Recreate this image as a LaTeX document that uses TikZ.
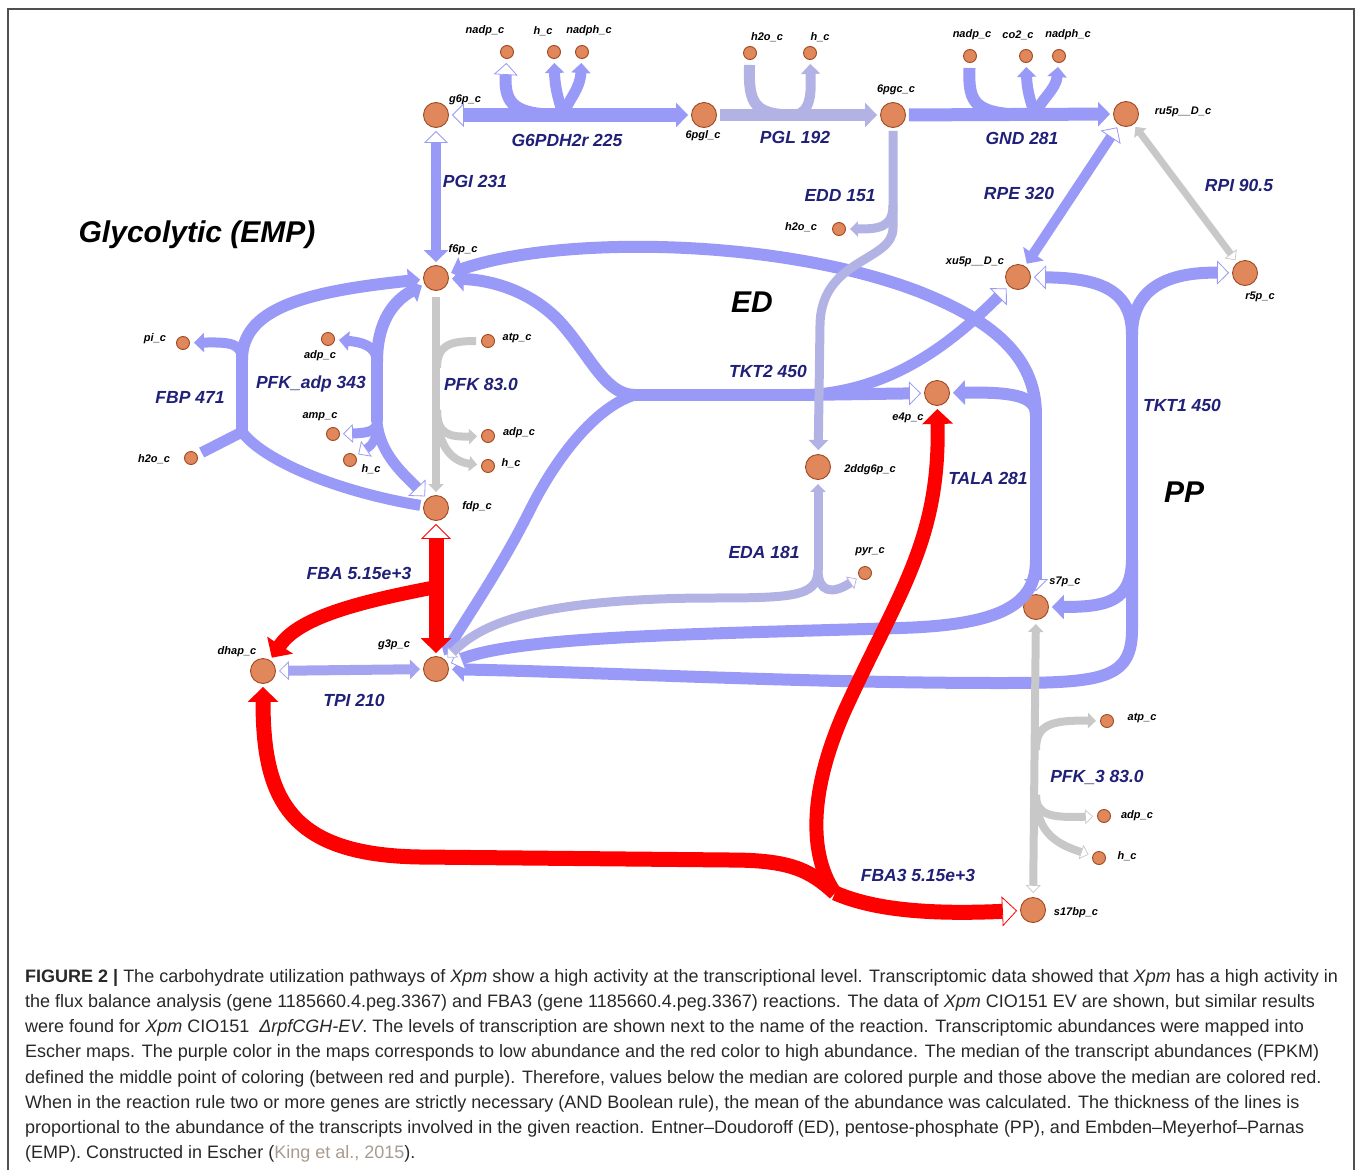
\documentclass[tikz,border=0pt]{standalone}
\usepackage{fontspec}
\setmainfont{Liberation Sans}
\usetikzlibrary{arrows.meta}
\definecolor{pur}{RGB}{153,153,247}
\definecolor{pale}{RGB}{178,178,228}
\definecolor{tpicol}{RGB}{164,164,240}
\definecolor{gry}{RGB}{200,200,200}
\definecolor{hot}{RGB}{255,0,0}
\definecolor{navy}{RGB}{32,32,120}
\definecolor{metfill}{RGB}{224,136,91}
\definecolor{metedge}{RGB}{160,72,32}
\definecolor{captxt}{RGB}{40,40,40}
\definecolor{citecol}{RGB}{168,154,142}
\definecolor{framecol}{RGB}{80,80,80}
\tikzset{
  met/.style={circle,draw=metedge,fill=metfill,line width=0.9pt,minimum size=25pt,inner sep=0pt},
  cof/.style={met,minimum size=13pt},
  mlab/.style={font=\fontsize{11}{13}\selectfont\bfseries\itshape},
  rlab/.style={text=navy,font=\fontsize{17.5}{20}\selectfont\bfseries\itshape},
  sect/.style={font=\fontsize{30}{34}\selectfont\bfseries\itshape},
  capline/.style={anchor=base west,inner sep=0pt,text=captxt,font=\fontsize{18}{21}\selectfont},
  bigf/.tip={Triangle[length=12pt,width=24pt]},
  bigo/.tip={Triangle[open,fill=white,line width=0.8pt,length=12pt,width=24pt]},
  midf/.tip={Triangle[length=10pt,width=19pt]},
  mido/.tip={Triangle[open,fill=white,line width=0.8pt,length=10pt,width=19pt]},
  smf/.tip={Triangle[length=8pt,width=15pt]},
  smo/.tip={Triangle[open,fill=white,line width=0.7pt,length=8pt,width=15pt]},
  redf/.tip={Triangle[length=15pt,width=30pt]},
  redo/.tip={Triangle[open,fill=white,line width=0.8pt,length=15pt,width=30pt]},
}
\begin{document}
\begin{tikzpicture}[x=1pt,y=-1pt]
  \useasboundingbox (0,0) rectangle (1358,1170);
  \draw[framecol,line width=2pt] (8,1170) -- (8,9) -- (1354,9) -- (1354,1170);
  \path
    (436,115) node[met] (g6p){}
    (704,115) node[met] (pgl6){}
    (893,115) node[met] (pgc6){}
    (1126,114) node[met] (ru5p){}
    (436,278) node[met] (f6p){}
    (436,508) node[met] (fdp){}
    (436,669) node[met] (g3p){}
    (263,671) node[met] (dhap){}
    (1018,277) node[met] (xu5p){}
    (1245,273) node[met] (r5p){}
    (937,393) node[met] (e4p){}
    (818,467) node[met] (ddg){}
    (1036,607) node[met] (s7p){}
    (1033,910) node[met] (s17bp){};
  \path
    (507,52) node[cof] (nadpA){}
    (554,52) node[cof] (hA){}
    (582,52) node[cof] (nadphA){}
    (750,53) node[cof] (h2oB){}
    (810,53) node[cof] (hB){}
    (970,56) node[cof] (nadpC){}
    (1026,56) node[cof] (co2C){}
    (1059,56) node[cof] (nadphC){}
    (839,229) node[cof] (h2oD){}
    (183,343) node[cof] (piE){}
    (328,339) node[cof] (adpF){}
    (333,434) node[cof] (ampF){}
    (350,460) node[cof] (hF){}
    (191,458) node[cof] (h2oE){}
    (488,341) node[cof] (atpG){}
    (488,436) node[cof] (adpG){}
    (488,466) node[cof] (hG){}
    (865,573) node[cof] (pyrH){}
    (1107,721) node[cof] (atpK){}
    (1104,816) node[cof] (adpK){}
    (1099,858) node[cof] (hK){};
  \path[mlab]
    (465,100) node {g6p\_c}
    (703,136) node {6pgl\_c}
    (896,90) node {6pgc\_c}
    (1183,112) node {ru5p\_\_D\_c}
    (463,250) node {f6p\_c}
    (477,507) node {fdp\_c}
    (394,645) node {g3p\_c}
    (237,652) node {dhap\_c}
    (975,262) node {xu5p\_\_D\_c}
    (1260,297) node {r5p\_c}
    (908,418) node {e4p\_c}
    (870,470) node {2ddg6p\_c}
    (1065,582) node {s7p\_c}
    (1076,913) node {s17bp\_c}
    (485,31) node {nadp\_c}
    (543,31) node {h\_c}
    (589,31) node {nadph\_c}
    (767,37) node {h2o\_c}
    (820,37) node {h\_c}
    (972,35) node {nadp\_c}
    (1018,35) node {co2\_c}
    (1068,35) node {nadph\_c}
    (801,227) node {h2o\_c}
    (155,339) node {pi\_c}
    (320,356) node {adp\_c}
    (320,417) node {amp\_c}
    (371,469) node {h\_c}
    (154,459) node {h2o\_c}
    (517,338) node {atp\_c}
    (519,433) node {adp\_c}
    (511,463) node {h\_c}
    (870,552) node {pyr\_c}
    (1142,718) node {atp\_c}
    (1137,816) node {adp\_c}
    (1127,856) node {h\_c};
  \path[rlab]
    (567,140) node {G6PDH2r 225}
    (795,137) node {PGL 192}
    (1022,138) node {GND 281}
    (475,181) node {PGI 231}
    (840,196) node {EDD 151}
    (1019,193) node {RPE 320}
    (1239,185) node {RPI 90.5}
    (190,397) node {FBP 471}
    (311,384) node {PFK\_adp 343}
    (481,384) node {PFK 83.0}
    (768,371) node {TKT2 450}
    (1182,405) node {TKT1 450}
    (988,478) node {TALA 281}
    (764,552) node {EDA 181}
    (359,573) node {FBA 5.15e+3}
    (354,700) node {TPI 210}
    (1097,777) node {PFK\_3 83.0}
    (918,875) node {FBA3 5.15e+3};
  \path[sect]
    (197,235) node {Glycolytic (EMP)}
    (752,302) node {ED}
    (1184,492) node {PP};
  \coordinate (g6pdh) at (563,115);
  \coordinate (pglx) at (795,115);
  \coordinate (gnd) at (1035,115);
  \coordinate (edd) at (893,205);
  \coordinate (eda) at (818,570);
  \coordinate (fba) at (436,587);
  \coordinate (fba3) at (835,893);
  \coordinate (tkt2) at (635,395);
  \coordinate (tkt2x) at (800,395);
  \coordinate (tkt1a) at (1132,335);
  \coordinate (tkt1b) at (1132,560);
  \coordinate (talaa) at (1036,415);
  \coordinate (talab) at (1036,560);
  \coordinate (fbpa) at (242,360);
  \coordinate (fbpb) at (242,432);
  \coordinate (pfkadpa) at (377,362);
  \coordinate (pfkadpb) at (377,422);
  \coordinate (pfka) at (437,368);
  \coordinate (pfkb) at (437,410);
  \coordinate (pfk3a) at (1036,750);
  \coordinate (pfk3b) at (1036,795);
  \begin{scope}[draw=pur]
    \draw[line width=14pt,bigo-bigf,shorten <=3pt,shorten >=3pt] (g6p) -- (pgl6);
    \draw[line width=12pt,-bigo,shorten >=4pt] (g6pdh) .. controls (515,115) and (504,105) .. (nadpA);
    \draw[line width=11pt,-midf,shorten >=4pt] (g6pdh) .. controls (559,100) and (555,90) .. (hA);
    \draw[line width=11pt,-midf,shorten >=4pt] (g6pdh) .. controls (568,100) and (580,90) .. (nadphA);
    \draw[line width=13pt,-bigf,shorten <=3pt,shorten >=3pt] (pgc6) -- (ru5p);
    \draw[line width=12pt,shorten >=5pt] (gnd) .. controls (975,115) and (968,105) .. (nadpC);
    \draw[line width=11pt,-midf,shorten >=4pt] (gnd) .. controls (1030,100) and (1027,90) .. (co2C);
    \draw[line width=11pt,-midf,shorten >=4pt] (gnd) .. controls (1040,100) and (1056,90) .. (nadphC);
    \draw[line width=10pt,bigo-bigf,shorten <=3pt,shorten >=3pt] (g6p) -- (f6p);
    \draw[line width=10pt,bigo-bigf,shorten <=3pt,shorten >=3pt] (ru5p) -- (xu5p);
    \draw[line width=12pt] (tkt2) -- (tkt2x);
    \draw[line width=12pt,-bigf,shorten >=3pt] (tkt2) .. controls (605,395) and (590,355) .. (560,322) .. controls (530,290) and (490,280) .. (f6p);
    \draw[line width=11pt,-midf,shorten >=3pt] (tkt2) .. controls (600,405) and (560,450) .. (530,510) .. controls (500,570) and (465,620) .. (g3p);
    \draw[line width=12pt,-bigo,shorten >=3pt] (tkt2x) -- (e4p);
    \draw[line width=11pt,-bigo,shorten >=3pt] (tkt2x) .. controls (880,393) and (940,355) .. (xu5p);
    \draw[line width=12pt] (tkt1a) -- (tkt1b);
    \draw[line width=12pt,-bigo,shorten >=3pt] (tkt1a) .. controls (1132,290) and (1100,278) .. (xu5p);
    \draw[line width=12pt,-bigo,shorten >=3pt] (tkt1a) .. controls (1132,290) and (1165,272) .. (r5p);
    \draw[line width=12pt,-bigf,shorten >=3pt] (tkt1b) .. controls (1131,600) and (1110,607) .. (s7p);
    \draw[line width=12pt,-bigf,shorten >=3pt] (tkt1b) -- (1132,630) .. controls (1132,680) and (1100,683) .. (1000,683) .. controls (800,683) and (600,672) .. (g3p);
    \draw[line width=12pt] (talaa) -- (talab);
    \draw[line width=12pt,-bigf,shorten >=3pt] (talaa) .. controls (1036,395) and (1010,392) .. (e4p);
    \draw[line width=12pt,-bigf,shorten >=3pt] (talaa) .. controls (1036,355) and (990,320) .. (920,292) .. controls (780,238) and (560,235) .. (f6p);
    \draw[line width=12pt,-bigo,shorten >=3pt] (talab) -- (s7p);
    \draw[line width=12pt,-bigo,shorten >=3pt] (talab) .. controls (1036,605) and (1000,625) .. (900,628) .. controls (700,634) and (520,636) .. (g3p);
    \draw[line width=12pt] (fbpa) -- (fbpb);
    \draw[line width=12pt,-bigf,shorten >=3pt] (fbpa) .. controls (242,310) and (300,292) .. (f6p);
    \draw[line width=10pt,-midf,shorten >=4pt] (fbpa) .. controls (242,343) and (230,342) .. (piE);
    \draw[line width=11pt,shorten >=5pt] (fbpb) -- (h2oE);
    \draw[line width=11pt,shorten >=3pt] (fbpb) .. controls (265,462) and (340,492) .. (fdp);
    \draw[line width=12pt] (pfkadpa) -- (pfkadpb);
    \draw[line width=12pt,-bigf,shorten >=3pt] (pfkadpa) .. controls (377,320) and (395,300) .. (f6p);
    \draw[line width=10pt,-midf,shorten >=4pt] (pfkadpa) .. controls (377,345) and (360,342) .. (adpF);
    \draw[line width=10pt,-mido,shorten >=3pt] (pfkadpb) .. controls (377,430) and (370,433) .. (ampF);
    \draw[line width=9pt,-mido,shorten >=3pt] (pfkadpb) .. controls (377,440) and (372,445) .. (hF);
    \draw[line width=11pt,-bigo,shorten >=3pt] (pfkadpb) .. controls (380,455) and (405,475) .. (fdp);
  \end{scope}
  \begin{scope}[draw=pale]
    \draw[line width=12pt,-bigf,shorten <=3pt,shorten >=3pt] (pgl6) -- (pgc6);
    \draw[line width=11pt,shorten >=5pt] (pglx) .. controls (755,115) and (748,105) .. (h2oB);
    \draw[line width=10pt,-midf,shorten >=4pt] (pglx) .. controls (812,112) and (811,90) .. (hB);
    \draw[line width=9pt,-midf,shorten <=3pt,shorten >=4pt] (pgc6) -- (edd) -- (893,228) .. controls (893,262) and (821,258) .. (820,325) -- (ddg);
    \draw[line width=9pt,-smf,shorten >=4pt] (edd) .. controls (893,228) and (878,229) .. (h2oD);
    \draw[line width=9pt,smf-,shorten <=4pt] (ddg) -- (eda);
    \draw[line width=9pt,-smo,shorten >=3pt] (eda) .. controls (818,598) and (790,598) .. (700,598) .. controls (530,600) and (480,625) .. (g3p);
    \draw[line width=9pt,-smo,shorten >=3pt] (eda) .. controls (818,592) and (832,595) .. (pyrH);
  \end{scope}
  \draw[tpicol,line width=10pt,mido-midf,shorten <=3pt,shorten >=3pt] (dhap) -- (g3p);
  \begin{scope}[draw=gry]
    \draw[line width=7pt,smf-smo,shorten <=3pt,shorten >=3pt] (ru5p) -- (r5p);
    \draw[line width=8pt,-smf,shorten <=6pt,shorten >=3pt] (f6p) -- (fdp);
    \draw[line width=8pt,shorten >=5pt] (pfka) .. controls (437,345) and (450,341) .. (atpG);
    \draw[line width=8pt,-smf,shorten >=4pt] (pfkb) .. controls (437,435) and (450,437) .. (adpG);
    \draw[line width=8pt,-smf,shorten >=4pt] (pfkb) .. controls (437,450) and (455,462) .. (hG);
    \draw[line width=8pt,smf-smo,shorten <=4pt,shorten >=4pt] (s7p) -- (s17bp);
    \draw[line width=8pt,-smf,shorten >=4pt] (pfk3a) .. controls (1036,725) and (1050,720) .. (atpK);
    \draw[line width=8pt,-smo,shorten >=4pt] (pfk3b) .. controls (1036,815) and (1050,818) .. (adpK);
    \draw[line width=8pt,-smo,shorten >=4pt] (pfk3b) .. controls (1036,835) and (1060,845) .. (hK);
  \end{scope}
  \begin{scope}[draw=hot]
    \draw[line width=15pt,redo-,shorten <=3pt] (fdp) -- (fba);
    \draw[line width=15pt,-redf,shorten >=3pt] (fba) -- (g3p);
    \draw[line width=14pt,-redf,shorten >=3pt] (fba) .. controls (370,600) and (300,615) .. (dhap);
    \draw[line width=15pt,redo-,shorten <=3pt] (s17bp) .. controls (920,915) and (870,908) .. (fba3);
    \draw[line width=15pt,-redf,shorten >=3pt] (fba3) .. controls (810,870) and (790,860) .. (730,860) -- (420,857) .. controls (290,855) and (263,800) .. (dhap);
    \draw[line width=14pt,-redf,shorten >=3pt] (fba3) .. controls (812,860) and (805,800) .. (845,710) .. controls (900,590) and (940,540) .. (e4p);
  \end{scope}
  \path
    (25,982) node[capline] (cap1) {\textbf{FIGURE 2 |} The carbohydrate utilization pathways of \textit{Xpm} show a high activity at the transcriptional level. Transcriptomic data showed that \textit{Xpm} has a high activity in}
    (25,1007) node[capline] (cap2) {the flux balance analysis (gene 1185660.4.peg.3367) and FBA3 (gene 1185660.4.peg.3367) reactions. The data of \textit{Xpm} CIO151 EV are shown, but similar results}
    (25,1032) node[capline] (cap3) {were found for \textit{Xpm} CIO151 \ \textit{Δrpf\kern0ptCGH-EV}. The levels of transcription are shown next to the name of the reaction. Transcriptomic abundances were mapped into}
    (25,1057) node[capline] (cap4) {Escher maps. The purple color in the maps corresponds to low abundance and the red color to high abundance. The median of the transcript abundances (FPKM)}
    (25,1083) node[capline] (cap5) {defined the middle point of coloring (between red and purple). Therefore, values below the median are colored purple and those above the median are colored red.}
    (25,1108) node[capline] (cap6) {When in the reaction rule two or more genes are strictly necessary (AND Boolean rule), the mean of the abundance was calculated. The thickness of the lines is}
    (25,1133) node[capline] (cap7) {proportional to the abundance of the transcripts involved in the given reaction. Entner–Doudoroff (ED), pentose-phosphate (PP), and Embden–Meyerhof–Parnas}
    (25,1158) node[capline] (cap8) {(EMP). Constructed in Escher ({\color{citecol}King et al., 2015}).};
\end{tikzpicture}
\end{document}
